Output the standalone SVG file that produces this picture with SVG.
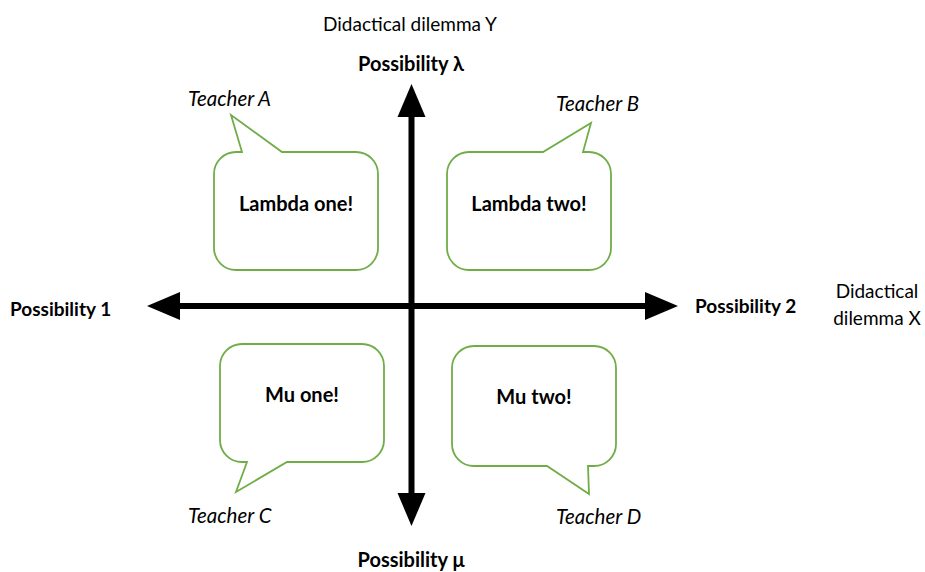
<svg xmlns="http://www.w3.org/2000/svg" width="925" height="572" viewBox="0 0 925 572">
<style>
.bub{fill:#fff;stroke:#70AD47;stroke-width:1.8;stroke-linejoin:miter}
.t{font-family:Lato,"Liberation Sans",sans-serif;fill:#000;font-size:19px}
.b{font-weight:bold}
.s{font-size:20px}
.i{font-style:italic;font-size:20.5px}
.m{text-anchor:middle}
.ax{stroke:#000;stroke-width:6;fill:none}
</style>
<defs>
<marker id="ah" markerUnits="userSpaceOnUse" viewBox="0 -15 34 30" markerWidth="34" markerHeight="30" refX="1" refY="0" orient="auto-start-reverse">
<path d="M0,-14 L33,0 L0,14 Z" fill="#000"/>
</marker>
</defs>
<rect width="925" height="572" fill="#fff"/>
<g id="connectors">
<line class="ax" x1="179" y1="306" x2="646" y2="306" marker-start="url(#ah)" marker-end="url(#ah)"/>
<line class="ax" x1="411.5" y1="116" x2="411.5" y2="494" marker-start="url(#ah)" marker-end="url(#ah)"/>
</g>
<g id="axis-labels">
<text class="t m" x="410" y="31">Didactical dilemma Y</text>
<text class="t b s m" x="411" y="71">Possibility λ</text>
<text class="t b s m" x="411" y="567">Possibility μ</text>
<text class="t b" x="10" y="316">Possibility 1</text>
<text class="t b" x="695" y="313">Possibility 2</text>
<text class="t m" x="877" y="298">Didactical</text>
<text class="t m" x="877" y="325">dilemma X</text>
</g>
<g id="bubbleA">
<path class="bub" d="M236,152 L242,152 L231,115 L282,152 L356,152 A22,22 0 0 1 378,174 L378,248 A22,22 0 0 1 356,270 L236,270 A22,22 0 0 1 214,248 L214,174 A22,22 0 0 1 236,152 Z"/>
<text class="t b s m" x="296" y="211">Lambda one!</text>
<text class="t i" x="188" y="106">Teacher A</text>
</g>
<g id="bubbleB">
<path class="bub" d="M469,152 L543,152 L591,123 L583,152 L589,152 A22,22 0 0 1 611,174 L611,248 A22,22 0 0 1 589,270 L469,270 A22,22 0 0 1 447,248 L447,174 A22,22 0 0 1 469,152 Z"/>
<text class="t b s m" x="529" y="211">Lambda two!</text>
<text class="t i" x="556" y="111">Teacher B</text>
</g>
<g id="bubbleC">
<path class="bub" d="M242,344 L362,344 A22,22 0 0 1 384,366 L384,440 A22,22 0 0 1 362,462 L287,462 L236,492 L247,462 L242,462 A22,22 0 0 1 220,440 L220,366 A22,22 0 0 1 242,344 Z"/>
<text class="t b s m" x="302" y="402">Mu one!</text>
<text class="t i" x="188" y="523">Teacher C</text>
</g>
<g id="bubbleD">
<path class="bub" d="M474,346 L594,346 A22,22 0 0 1 616,368 L616,444 A22,22 0 0 1 594,466 L588,466 L589,494 L547,466 L474,466 A22,22 0 0 1 452,444 L452,368 A22,22 0 0 1 474,346 Z"/>
<text class="t b s m" x="534" y="404">Mu two!</text>
<text class="t i" x="556" y="524">Teacher D</text>
</g>
</svg>
